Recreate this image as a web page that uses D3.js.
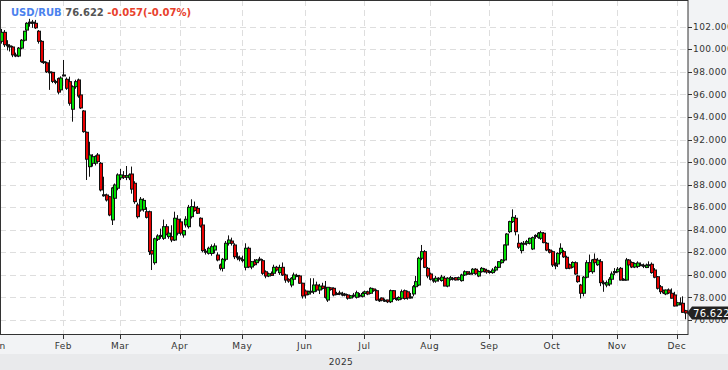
<!DOCTYPE html>
<html><head><meta charset="utf-8">
<script src="https://cdn.jsdelivr.net/npm/d3@7"></script>
<style>body{margin:0;background:#fff;}svg{display:block;}</style>
</head><body>
<svg id="c" width="728" height="370"></svg>
<script>
const symbol = "USD/RUB";
const lastPrice = "76.622";
const changeText = "-0.057(-0.07%)";
const yearLabel = "2025";
const firstDay = "2025-01-01", lastDay = "2025-12-04";
const extraSessions = ["2025-11-01"];
const yTicks = [76,78,80,82,84,86,88,90,92,94,96,98,100,102];

const open = [100.9,100.7,101.5,100.4,100.3,100.2,99.5,99.4,100.1,100.8,
101.7,102.3,102.4,102.3,101.6,100.7,98.9,98.8,98.0,97.95,
97.15,97.4,96.4,97.7,97.34,97.13,94.68,96.68,97.28,95.95,
94.53,92.64,89.59,89.89,89.9,90.63,89.89,87.08,87.08,86.93,
84.87,86.79,87.68,88.6,88.8,88.65,88.6,88.94,88.12,86.2,
85.75,85.8,85.6,85.6,82.15,81.08,83.15,83.4,83.24,84.27,
83.39,83.39,83.09,84.93,84.7,83.54,84.43,84.27,85.16,86.0,
85.9,85.02,84.42,82.1,81.91,81.9,82.2,81.76,80.88,80.58,
81.38,82.8,83.0,82.65,81.6,81.5,81.35,80.67,82.36,80.7,
81.2,81.08,81.4,81.26,80.28,79.9,80.1,80.14,80.67,80.2,
80.67,79.99,79.6,79.1,79.61,79.95,79.9,79.26,78.57,78.3,
78.5,78.51,79.1,78.66,79.0,78.81,77.77,78.85,78.81,78.3,
78.4,78.3,78.3,78.22,77.95,78.15,78.01,78.2,78.1,78.35,
78.5,78.37,78.75,78.6,77.8,77.95,77.7,77.77,77.62,78.6,
77.9,77.8,77.93,78.6,78.5,77.95,78.31,78.95,79.1,81.47,
82.06,80.58,80.08,79.5,79.45,79.7,79.5,79.7,79.01,79.6,
79.65,79.75,79.6,79.49,79.99,80.28,80.1,80.14,80.5,79.9,
80.28,80.5,80.4,80.25,80.2,80.43,80.67,81.08,81.32,82.65,
83.83,84.72,85.02,82.8,82.15,82.8,82.8,82.8,82.3,83.4,
83.33,83.24,83.69,82.8,82.2,82.06,80.9,80.97,81.97,82.06,
81.56,80.9,80.7,81.08,79.9,79.1,78.37,79.79,81.08,80.28,
81.38,80.9,81.17,79.3,79.1,79.19,79.61,80.2,80.28,80.58,
79.61,79.54,81.32,81.1,80.7,80.75,80.9,80.85,80.65,80.9,
80.94,80.43,79.84,78.95,78.6,78.31,78.66,78.37,78.22,77.33,
77.5,77.48,76.83];

const high = [101.2,101.8,101.7,100.8,100.4,100.3,99.7,100.2,100.9,101.6,
102.4,102.7,102.6,102.6,101.7,100.8,99.1,98.9,99.05,98.0,
97.3,97.5,97.6,99.05,97.5,97.57,96.8,97.3,97.4,96.0,
94.6,92.7,91.8,90.7,90.6,90.8,90.0,88.7,87.2,87.0,
87.8,88.1,89.0,89.4,89.2,89.65,89.0,89.6,88.3,86.4,
86.9,86.8,86.0,85.7,82.4,83.3,83.6,84.1,84.9,84.5,
83.9,84.4,85.6,85.3,85.0,83.95,85.2,86.2,86.7,86.5,
86.1,85.1,84.5,82.3,82.5,82.7,82.8,82.0,81.0,81.5,
83.0,83.5,83.3,82.8,82.0,81.7,81.7,82.8,82.5,81.2,
81.4,81.4,81.6,81.4,80.4,80.2,80.3,80.9,80.8,80.9,
81.1,80.1,79.7,79.8,80.2,80.1,80.0,79.3,78.7,78.6,
79.7,79.7,79.4,79.2,79.3,79.46,78.9,78.9,78.9,78.5,
78.6,78.5,78.4,78.3,78.2,78.4,78.6,78.4,78.5,78.6,
78.6,78.9,78.8,78.7,77.9,78.0,77.9,77.8,78.7,78.65,
78.0,78.1,78.7,78.7,78.6,78.4,79.1,79.9,81.6,82.65,
82.2,80.7,80.2,79.7,79.9,79.8,80.0,79.9,79.8,79.9,
79.8,79.8,79.85,80.1,80.4,80.3,80.3,80.6,80.6,80.4,
80.7,80.6,80.5,80.4,80.6,80.8,81.2,81.4,82.7,83.7,
84.8,85.81,85.3,83.6,82.9,83.0,83.1,83.3,83.4,83.6,
83.8,83.9,83.8,82.9,82.3,82.15,81.1,82.0,82.8,82.2,
81.7,81.0,81.2,81.2,80.0,79.2,79.9,81.3,81.8,81.4,
81.9,81.5,81.4,79.5,79.5,79.8,80.3,80.6,80.7,80.7,
79.7,81.5,81.4,81.2,81.1,81.2,81.1,81.0,81.0,81.2,
81.1,80.6,79.9,79.1,78.7,78.7,78.8,78.8,78.5,77.6,
78.0,78.1,76.9];

const low = [100.5,100.5,100.2,99.9,99.8,99.3,99.3,99.3,100.0,100.7,
101.6,102.0,101.9,101.8,100.5,98.8,98.7,97.9,96.4,97.0,
96.9,96.0,96.3,97.6,96.4,95.0,93.58,96.5,95.7,94.7,
92.6,88.41,88.7,89.6,89.7,89.9,87.4,86.93,86.5,85.2,
84.42,86.6,87.5,88.4,88.5,88.4,88.4,87.2,86.3,85.0,
85.6,85.6,85.0,81.76,80.43,80.9,83.0,83.2,83.1,83.5,
83.2,82.9,83.0,83.5,83.5,83.3,84.2,84.1,85.0,85.6,
85.4,84.2,82.0,81.8,81.8,81.7,81.9,81.2,80.4,80.3,
81.2,82.6,82.6,81.4,81.3,81.2,81.1,80.4,80.6,80.5,
80.8,80.9,81.2,80.0,79.7,79.8,79.9,80.0,80.3,80.0,
79.9,79.3,79.3,78.9,79.5,79.8,79.2,77.9,77.9,78.2,
78.4,78.3,78.5,78.3,78.7,77.9,77.6,78.6,78.1,78.2,
78.2,78.1,78.1,77.8,77.9,78.0,77.9,78.0,78.0,78.3,
78.2,78.3,78.5,77.7,77.6,77.7,77.6,77.5,77.5,77.8,
77.7,77.7,77.8,77.8,77.8,77.9,78.1,78.9,79.0,81.3,
80.6,79.7,79.5,79.3,79.3,79.4,79.4,79.0,78.9,79.5,
79.5,79.5,79.5,79.4,79.9,80.0,80.0,80.0,80.0,79.8,
80.2,80.2,80.1,80.1,80.1,80.3,80.6,81.0,81.2,82.5,
83.7,84.6,83.5,82.3,81.9,82.6,82.6,82.7,82.2,83.2,
83.2,83.1,82.8,82.1,81.9,80.7,80.5,80.7,81.8,81.5,
80.5,80.5,80.6,80.0,79.3,77.9,78.1,79.7,80.2,80.1,
80.9,80.8,79.0,78.5,78.9,79.0,79.5,80.0,80.2,79.5,
79.5,79.5,80.8,80.6,80.6,80.6,80.8,80.6,80.6,80.8,
80.1,79.7,78.7,78.3,78.3,78.2,78.3,77.9,77.2,77.2,
77.3,76.65,76.06];

const close = [100.7,101.5,100.4,100.3,100.2,99.5,99.4,100.1,100.8,101.6,
102.3,102.4,102.3,101.9,100.7,98.9,98.85,98.0,97.95,97.15,
97.1,96.2,97.45,97.72,96.54,95.21,96.68,97.13,95.86,94.8,
92.7,90.25,90.63,90.48,90.5,90.04,87.53,87.1,86.64,85.31,
87.7,87.97,88.86,88.86,88.65,88.8,88.86,87.6,86.49,85.16,
86.7,86.6,85.1,82.06,81.85,83.2,83.45,83.5,84.27,83.6,
83.7,83.09,85.02,83.69,83.7,83.92,84.93,85.99,86.05,85.7,
85.46,84.33,82.15,82.0,82.36,82.5,82.56,81.32,80.58,81.38,
82.8,83.09,82.8,81.61,81.55,81.4,81.3,82.36,80.7,81.17,
80.9,81.32,81.4,80.14,79.9,80.1,79.95,80.67,80.43,80.65,
79.99,79.54,79.45,79.7,79.99,79.85,79.26,78.13,78.22,78.5,
78.55,79.1,78.66,79.0,78.8,78.01,78.9,78.7,78.22,78.35,
78.3,78.25,78.2,77.93,78.15,78.2,78.42,78.2,78.35,78.5,
78.3,78.81,78.6,77.77,77.7,77.75,77.75,77.62,78.6,77.9,
77.85,78.0,78.51,77.9,77.95,78.05,78.95,79.4,81.47,82.06,
80.67,79.9,79.61,79.55,79.7,79.7,79.8,79.01,79.7,79.75,
79.7,79.55,79.75,79.99,80.28,80.1,80.15,80.5,80.1,80.3,
80.58,80.3,80.25,80.3,80.43,80.67,81.17,81.32,82.65,83.62,
84.72,85.1,83.83,82.45,82.74,82.75,82.95,83.24,83.3,83.5,
83.69,83.74,82.86,82.2,82.0,80.88,80.8,81.91,82.36,81.6,
80.58,80.6,81.1,80.08,79.4,78.37,79.79,81.08,80.3,81.32,
81.08,81.3,79.31,79.25,79.3,79.61,80.08,80.3,80.5,79.54,
79.55,81.32,80.88,80.7,81.0,81.05,80.85,80.8,80.85,80.85,
80.2,79.79,78.81,78.51,78.4,78.66,78.4,77.93,77.24,77.53,
77.45,76.679,76.622];

// ---- layout ----
const W = 728, H = 370;
const plot = {left: 0, top: 0, right: 688, bottom: 335};
const svg = d3.select("#c");
const FONT = "'DejaVu Sans', Verdana, sans-serif";

const fmtDay = d3.timeFormat("%Y-%m-%d");
const parse = d3.timeParse("%Y-%m-%d");
const dates = d3.timeDay.range(parse(firstDay), d3.timeDay.offset(parse(lastDay), 1))
  .filter(d => (d.getDay() % 6 !== 0) || extraSessions.includes(fmtDay(d)));
const N = Math.min(dates.length, close.length);

const x = d3.scaleLinear().domain([0, 242]).range([-2, 685.28]);
const y = d3.scaleLinear().domain([74.67, 104.366]).range([plot.bottom, plot.top]);

// backgrounds
svg.append("rect").attr("x",0).attr("y",0).attr("width",W).attr("height",H).attr("fill","#f2f3f5");
svg.append("rect").attr("x",0).attr("y",354).attr("width",W).attr("height",16).attr("fill","#e9eaec");
svg.append("rect").attr("x",plot.left).attr("y",plot.top).attr("width",plot.right-plot.left).attr("height",plot.bottom-plot.top).attr("fill","#ffffff");

// month ticks
const monthIdx = [];
for (let i = 0; i < N; i++) {
  if (i === 0 || dates[i].getMonth() !== dates[i-1].getMonth()) monthIdx.push(i);
}
const fmtMon = d3.timeFormat("%b");

const grid = svg.append("g");
grid.selectAll("line.h").data(yTicks).join("line")
  .attr("x1", plot.left).attr("x2", plot.right)
  .attr("y1", d => Math.round(y(d)) + 0.5).attr("y2", d => Math.round(y(d)) + 0.5)
  .attr("stroke", "#dedede").attr("stroke-dasharray", "6,4");
grid.selectAll("line.v").data(monthIdx).join("line")
  .attr("x1", i => Math.round(x(i)) + 0.5).attr("x2", i => Math.round(x(i)) + 0.5)
  .attr("y1", plot.top).attr("y2", plot.bottom)
  .attr("stroke", "#dedede").attr("stroke-dasharray", "6,4");

// candles
svg.append("clipPath").attr("id","clip").append("rect")
  .attr("x",plot.left+1).attr("y",plot.top+1).attr("width",plot.right-plot.left-1).attr("height",plot.bottom-plot.top-1);
const cg = svg.append("g").attr("clip-path","url(#clip)");
const idx = d3.range(N);
const cx = i => Math.round(x(i));
const candle = cg.selectAll("g.c").data(idx).join("g");
candle.append("line")
  .attr("x1", i => cx(i) + 0.5).attr("x2", i => cx(i) + 0.5)
  .attr("y1", i => y(high[i])).attr("y2", i => y(low[i]))
  .attr("stroke", "#111").attr("stroke-width", 1);
candle.append("rect")
  .attr("x", i => cx(i) - 1)
  .attr("width", 4)
  .attr("y", i => y(Math.max(open[i], close[i])) - 0.5)
  .attr("height", i => Math.max(1, Math.abs(y(open[i]) - y(close[i]))) + 1)
  .attr("fill", "#111");
candle.filter(i => Math.abs(y(open[i]) - y(close[i])) > 1.2).append("rect")
  .attr("x", i => cx(i))
  .attr("width", 2)
  .attr("y", i => y(Math.max(open[i], close[i])) + 0.5)
  .attr("height", i => Math.abs(y(open[i]) - y(close[i])) - 1)
  .attr("fill", i => close[i] >= open[i] ? "#00e000" : "#e80000");

// border
svg.append("rect").attr("x",0.5).attr("y",0.5).attr("width",plot.right-0.5).attr("height",plot.bottom-1)
  .attr("fill","none").attr("stroke","#333");

// right axis
const ra = svg.append("g");
ra.selectAll("line").data(yTicks).join("line")
  .attr("x1", plot.right).attr("x2", plot.right + 4)
  .attr("y1", d => Math.round(y(d)) + 0.5).attr("y2", d => Math.round(y(d)) + 0.5)
  .attr("stroke", "#333");
ra.selectAll("text").data(yTicks).join("text")
  .attr("x", plot.right + 5).attr("y", d => y(d)).attr("dy","0.35em")
  .attr("font-family", FONT).attr("font-size", 9).attr("fill", "#333")
  .attr("letter-spacing", "0.4px")
  .text(d => d3.format(".3f")(d));

// bottom axis
const ba = svg.append("g");
ba.selectAll("line").data(monthIdx).join("line")
  .attr("x1", i => Math.round(x(i)) + 0.5).attr("x2", i => Math.round(x(i)) + 0.5)
  .attr("y1", plot.bottom).attr("y2", plot.bottom + 4)
  .attr("stroke", "#333");
ba.selectAll("text").data(monthIdx).join("text")
  .attr("x", i => x(i)).attr("y", 348.5).attr("text-anchor","middle")
  .attr("font-family", FONT).attr("font-size", 9).attr("fill", "#333").attr("letter-spacing","0.4px")
  .text(i => fmtMon(dates[i]));
svg.append("text").attr("x", 341).attr("y", 365).attr("text-anchor","middle")
  .attr("font-family", FONT).attr("font-size", 9).attr("fill", "#333").attr("letter-spacing","0.4px")
  .text(yearLabel);

// last price marker
const ly = y(close[N-1]);
svg.append("path")
  .attr("d", `M${plot.right-1},${ly} L${plot.right+4},${ly-6.5} L${W},${ly-6.5} L${W},${ly+6.5} L${plot.right+4},${ly+6.5} Z`)
  .attr("fill", "#222");
svg.append("text").attr("x", plot.right + 5).attr("y", ly).attr("dy","0.36em")
  .attr("font-family", FONT).attr("font-size", 10).attr("fill","#fff").attr("letter-spacing","0.3px")
  .text(lastPrice);

// title
const t = svg.append("text").attr("x", 11).attr("y", 15.5)
  .attr("font-family", FONT).attr("font-size", 10).attr("font-weight","bold");
t.append("tspan").attr("fill","#4b82ee").text(symbol + " ");
t.append("tspan").attr("fill","#555").text(lastPrice + " ");
t.append("tspan").attr("fill","#e8412c").text(changeText);
</script>
</body></html>
